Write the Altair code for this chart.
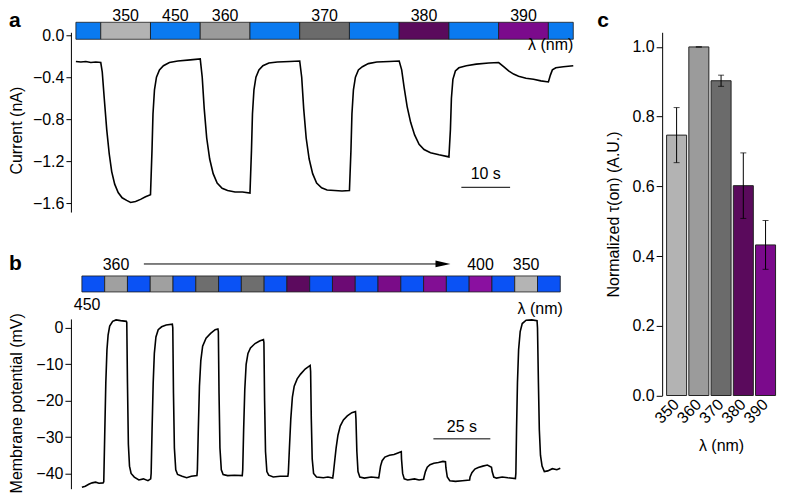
import altair as alt
import pandas as pd

FONT = "Liberation Sans"
FS = 16

# ---------------- Panel a : current trace ----------------
a_trace = [
    (0, -0.25), (1, -0.255), (2, -0.25), (3, -0.26), (4, -0.255), (5.0, -0.26),
    (5.3, -0.35), (5.7, -0.6), (6.2, -0.9), (6.7, -1.13), (7.2, -1.3), (7.8, -1.42),
    (8.5, -1.5), (9.3, -1.55), (10.2, -1.575), (11.0, -1.595), (12.0, -1.585),
    (13.0, -1.565), (14.0, -1.54), (15.0, -1.52),
    (15.3, -1.1), (15.5, -0.75), (15.8, -0.52), (16.2, -0.4), (16.8, -0.33),
    (17.6, -0.29), (18.8, -0.26), (20.5, -0.245), (23.0, -0.235), (25.0, -0.225),
    (25.4, -0.4), (25.8, -0.7), (26.3, -0.98), (26.9, -1.18), (27.6, -1.32),
    (28.4, -1.41), (29.4, -1.46), (30.5, -1.48), (32.0, -1.495), (33.5, -1.495),
    (35.0, -1.505),
    (35.3, -1.1), (35.5, -0.75), (35.8, -0.52), (36.2, -0.4), (36.8, -0.33),
    (37.6, -0.29), (38.8, -0.265), (40.5, -0.255), (43.0, -0.25), (45.0, -0.245),
    (45.4, -0.4), (45.8, -0.7), (46.3, -0.98), (46.9, -1.18), (47.6, -1.32),
    (48.4, -1.41), (49.4, -1.455), (50.5, -1.475), (52.0, -1.48), (53.5, -1.485),
    (55.0, -1.48),
    (55.3, -1.1), (55.5, -0.75), (55.8, -0.52), (56.2, -0.4), (56.8, -0.33),
    (57.6, -0.3), (58.8, -0.27), (60.5, -0.255), (63.0, -0.25), (65.0, -0.245),
    (65.5, -0.33), (66.0, -0.5), (66.6, -0.68), (67.3, -0.83), (68.1, -0.95),
    (69.0, -1.04), (70.0, -1.09), (71.3, -1.12), (73.0, -1.14), (75.0, -1.16),
    (75.3, -0.9), (75.5, -0.6), (75.8, -0.42), (76.3, -0.34), (77.0, -0.31),
    (78.5, -0.29), (80.5, -0.275), (83.0, -0.265), (85.0, -0.26),
    (86.0, -0.3), (87.0, -0.34), (88.0, -0.37), (89.0, -0.39), (90.5, -0.41),
    (92.0, -0.42), (93.5, -0.435), (95.0, -0.445),
    (95.4, -0.38), (95.8, -0.33), (96.5, -0.31), (98.0, -0.3), (100.0, -0.29),
]
a_seg_start = [0, 5, 15, 25, 35, 45, 55, 65, 75, 85, 95]
a_seg_end = [5, 15, 25, 35, 45, 55, 65, 75, 85, 95, 100]
BLUE_A = "#0a7af0"
a_seg_color = [BLUE_A, "#b3b3b3", BLUE_A, "#9b9b9b", BLUE_A, "#6b6b6b",
               BLUE_A, "#5a0a5c", BLUE_A, "#7b0a8c", BLUE_A]
a_label_text = ["350", "450", "360", "370", "380", "390"]
a_label_time = [10, 20, 30, 50, 70, 90]
a_yticks = [0.0, -0.4, -0.8, -1.2, -1.6]
a_bar = {"t1": [77.5], "t2": [87.3], "v": [-1.45], "tm": [82.4], "vt": [-1.325], "txt": ["10 s"]}
a_lambda = {"t": [100], "v": [-0.09], "txt": ["λ (nm)"]}

# ---------------- Panel b : membrane potential ----------------
b_trace = [
    (0, -43.8), (1.5, -43.5), (3, -43.0), (4.5, -42.6), (6, -42.4), (7.5, -42.7), (9.3, -42.6),
    (9.6, -42.3), (10.0, -30), (10.5, -15), (11.0, -6), (11.5, -2), (12.2, 0.5),
    (13.5, 1.8), (15, 2.2), (17, 2.0), (19.5, 1.8),
    (19.7, 1.5), (20.0, -15), (20.4, -32), (20.9, -38), (21.6, -40), (23, -41),
    (25, -41.8), (27, -41.5), (29, -42), (30.2, -41.5),
    (30.4, -40), (30.8, -28), (31.3, -15), (31.8, -7), (32.5, -2.5), (33.5, -0.5),
    (35, 0.3), (37, 0.8), (39.7, 1.0),
    (39.9, 0), (40.2, -18), (40.6, -33), (41.2, -39), (42, -40.3), (44, -40.8),
    (46, -41.2), (48, -40.8), (50.5, -40.6),
    (50.7, -39), (51.1, -28), (51.6, -16), (52.2, -9), (53, -5), (54.5, -2.8),
    (56.5, -1.5), (58.5, -0.5), (59.7, -0.3),
    (59.9, -1), (60.2, -18), (60.6, -33), (61.2, -39), (62, -40.3), (64, -40.6),
    (67, -40.5), (70.4, -40.6),
    (70.6, -39), (71.0, -28), (71.5, -17), (72.1, -10), (72.9, -7), (74, -5.5),
    (76, -4.3), (78, -3.6), (79.7, -3.2),
    (79.9, -4), (80.2, -20), (80.6, -34), (81.2, -39.5), (82, -40.5), (84, -41),
    (87, -40.8), (90.4, -40.8),
    (90.6, -40), (91.1, -33), (91.7, -25), (92.4, -19), (93.2, -16), (94.5, -14),
    (96, -12.7), (98, -11.3), (100.2, -10.3),
    (100.4, -12), (100.7, -25), (101.1, -36), (101.7, -40), (103, -41), (106, -41.2),
    (108, -41), (110.1, -41.3),
    (110.3, -40.5), (110.9, -37), (111.6, -33), (112.4, -29.5), (113.4, -27),
    (114.8, -25.3), (116.5, -24.2), (118.5, -23.3), (120.1, -23),
    (120.3, -25), (120.7, -34), (121.2, -39.5), (122, -41), (124, -41.3), (127, -41),
    (130.3, -41.2),
    (130.5, -40.5), (131.1, -38), (131.8, -36.5), (133, -35.5), (135, -35),
    (137, -34.8), (139, -34.3), (140.2, -34),
    (140.3, -36), (140.8, -40), (141.5, -41.5), (143, -41.8), (146, -41.5),
    (148, -41.8), (150, -41.6),
    (150.2, -41), (150.8, -39.5), (151.6, -38.3), (152.8, -37.6), (154.5, -37.2),
    (156.5, -37), (158.5, -36.7), (159.6, -36.8),
    (159.8, -38.5), (160.4, -41), (161.5, -42), (164, -42.2), (167, -42), (170.2, -41.8),
    (170.4, -41), (171.2, -39.8), (172.5, -38.8), (174, -38.4), (176, -38),
    (178, -37.7), (179.8, -38.3),
    (180.1, -39.5), (180.8, -41), (182, -41.3), (184.5, -41), (187, -41.2), (190.3, -41.4),
    (190.5, -40), (190.8, -28), (191.2, -15), (191.7, -6), (192.4, -1), (193.3, 1.2),
    (195, 2.1), (197.5, 2.2), (199.8, 2.0),
    (200, 0), (200.4, -15), (200.8, -28), (201.3, -35), (202, -38), (203, -39.5),
    (204.5, -39.3), (206.5, -38.7), (208.5, -39), (210, -38.6),
]
b_seg_start = [0, 10, 20, 30, 40, 50, 60, 70, 80, 90, 100,
               110, 120, 130, 140, 150, 160, 170, 180, 190, 200]
b_seg_end = [10, 20, 30, 40, 50, 60, 70, 80, 90, 100, 110,
             120, 130, 140, 150, 160, 170, 180, 190, 200, 210]
BLUE_B = "#0a52f5"
b_seg_color = [BLUE_B, "#a0a0a0", BLUE_B, "#a0a0a0", BLUE_B, "#6e6e6e", BLUE_B,
               "#6e6e6e", BLUE_B, "#5c0a5e", BLUE_B, "#6c0a74", BLUE_B, "#7a0c88",
               BLUE_B, "#820e94", BLUE_B, "#8a10a0", BLUE_B, "#b4b4b4", BLUE_B]
b_label_text = ["360", "400", "350"]
b_label_time = [15, 175, 195]
b_yticks = [0, -10, -20, -30, -40]
b_bar = {"t1": [154.3], "t2": [179.3], "v": [-30.5], "tm": [166.8], "vt": [-27.3], "txt": ["25 s"]}
b_arrow = {"t1": [27.2], "t2": [156.0], "head": [158.5]}

# ---------------- Panel c : normalized tau(on) ----------------
c_wavelength = ["350", "360", "370", "380", "390"]
c_tau = [0.747, 1.0, 0.903, 0.602, 0.432]
c_err = [0.079, 0.0, 0.016, 0.094, 0.070]
c_color = ["#b3b3b3", "#9b9b9b", "#6b6b6b", "#5a0a5c", "#7b0a8c"]
c_yticks = [0.0, 0.2, 0.4, 0.6, 0.8, 1.0]

# ---------------- build tables ----------------
df_a = pd.DataFrame(a_trace, columns=["t", "v"])
df_a_seg = pd.DataFrame({"start": a_seg_start, "end": a_seg_end, "color": a_seg_color})
df_a_lab = pd.DataFrame({"t": a_label_time, "txt": a_label_text})
df_b = pd.DataFrame(b_trace, columns=["t", "v"])
df_b_seg = pd.DataFrame({"start": b_seg_start, "end": b_seg_end, "color": b_seg_color})
df_b_lab = pd.DataFrame({"t": b_label_time, "txt": b_label_text})
df_c = pd.DataFrame({"wl": c_wavelength, "tau": c_tau, "err": c_err, "color": c_color})
df_c["lo"] = df_c["tau"] - df_c["err"]
df_c["hi"] = df_c["tau"] + df_c["err"]


def txt(**kw):
    base = dict(font=FONT, fontSize=FS, color="black")
    base.update(kw)
    return base


def yaxis(title, values, fmt, tx, ty=None, ts=5):
    kw = dict(values=values, format=fmt, title=title, grid=False, tickSize=ts,
              labelPadding=2, titleX=tx, titleFontWeight="normal")
    if ty is not None:
        kw["titleY"] = ty
    return alt.Axis(**kw)


# Panel a
xa = alt.Scale(domain=[-1.0, 100], nice=False, zero=False)
ya = alt.Scale(domain=[-1.686, 0.0286], nice=False, zero=False)

a_line = alt.Chart(df_a).mark_line(color="black", strokeWidth=1.6).encode(
    x=alt.X("t:Q", scale=xa, axis=None),
    y=alt.Y("v:Q", scale=ya, axis=yaxis("Current (nA)", a_yticks, ".1f", -46, 98)),
)
a_strip = alt.Chart(df_a_seg).mark_rect(stroke="#1a1a1a", strokeWidth=0.8).encode(
    x=alt.X("start:Q", scale=xa, axis=None), x2="end:Q",
    y=alt.value(-10), y2=alt.value(7),
    color=alt.Color("color:N", scale=None),
)
a_labels = alt.Chart(df_a_lab).mark_text(**txt(baseline="top")).encode(
    x=alt.X("t:Q", scale=xa, axis=None), y=alt.value(-24), text="txt:N")
df_abar = pd.DataFrame(a_bar)
a_sbar = alt.Chart(df_abar).mark_rule(color="black", strokeWidth=1).encode(
    x=alt.X("t1:Q", scale=xa, axis=None), x2="t2:Q", y=alt.Y("v:Q", scale=ya))
a_stxt = alt.Chart(df_abar).mark_text(**txt(baseline="middle")).encode(
    x=alt.X("tm:Q", scale=xa, axis=None), y=alt.Y("vt:Q", scale=ya), text="txt:N")
a_lam = alt.Chart(pd.DataFrame(a_lambda)).mark_text(**txt(align="right", baseline="middle")).encode(
    x=alt.X("t:Q", scale=xa, axis=None), y=alt.Y("v:Q", scale=ya), text="txt:N")
a_tag = alt.Chart(pd.DataFrame({"txt": ["a"]})).mark_text(
    **txt(fontSize=21, fontWeight="bold", align="left", baseline="top")).encode(
    x=alt.value(-62), y=alt.value(-22), text="txt:N")
panel_a = alt.layer(a_strip, a_labels, a_line, a_sbar, a_stxt, a_lam, a_tag).properties(
    width=503, height=180)

# Panel b
xb = alt.Scale(domain=[-4.82, 210], nice=False, zero=False)
yb = alt.Scale(domain=[-44.2, 2.47], nice=False, zero=False)

b_line = alt.Chart(df_b).mark_line(color="black", strokeWidth=1.6).encode(
    x=alt.X("t:Q", scale=xb, axis=None),
    y=alt.Y("v:Q", scale=yb, axis=yaxis("Membrane potential (mV)", b_yticks, "d", -46, 84, 6)),
)
b_strip = alt.Chart(df_b_seg).mark_rect(stroke="#1a1a1a", strokeWidth=0.8).encode(
    x=alt.X("start:Q", scale=xb, axis=None), x2="end:Q",
    y=alt.value(-43), y2=alt.value(-27),
    color=alt.Color("color:N", scale=None),
)
b_labels = alt.Chart(df_b_lab).mark_text(**txt(baseline="middle")).encode(
    x=alt.X("t:Q", scale=xb, axis=None), y=alt.value(-54), text="txt:N")
b_450 = alt.Chart(pd.DataFrame({"t": [2.3], "txt": ["450"]})).mark_text(**txt(baseline="middle")).encode(
    x=alt.X("t:Q", scale=xb, axis=None), y=alt.value(-14), text="txt:N")
b_lam = alt.Chart(pd.DataFrame({"t": [201.2], "txt": ["λ (nm)"]})).mark_text(**txt(baseline="middle")).encode(
    x=alt.X("t:Q", scale=xb, axis=None), y=alt.value(-10), text="txt:N")
df_arrow = pd.DataFrame(b_arrow)
b_arrow_line = alt.Chart(df_arrow).mark_rule(color="black", strokeWidth=1).encode(
    x=alt.X("t1:Q", scale=xb, axis=None), x2="t2:Q", y=alt.value(-55))
b_arrow_head = alt.Chart(df_arrow).mark_point(
    shape="M-1,-0.45L1,0L-1,0.45Z", filled=True, size=225, color="black", opacity=1).encode(
    x=alt.X("head:Q", scale=xb, axis=None), y=alt.value(-55))
df_bbar = pd.DataFrame(b_bar)
b_sbar = alt.Chart(df_bbar).mark_rule(color="black", strokeWidth=1).encode(
    x=alt.X("t1:Q", scale=xb, axis=None), x2="t2:Q", y=alt.Y("v:Q", scale=yb))
b_stxt = alt.Chart(df_bbar).mark_text(**txt(baseline="middle")).encode(
    x=alt.X("tm:Q", scale=xb, axis=None), y=alt.Y("vt:Q", scale=yb), text="txt:N")
b_tag = alt.Chart(pd.DataFrame({"txt": ["b"]})).mark_text(
    **txt(fontSize=21, fontWeight="bold", align="left", baseline="middle")).encode(
    x=alt.value(-62), y=alt.value(-55), text="txt:N")
panel_b = alt.layer(b_strip, b_labels, b_450, b_lam, b_arrow_line, b_arrow_head,
                    b_line, b_sbar, b_stxt, b_tag).properties(width=490, height=170)

# Panel c
xc = alt.Scale(domain=c_wavelength, paddingInner=0.1, paddingOuter=0.2)
yc = alt.Scale(domain=[0, 1.042], nice=False, zero=True)
c_bars = alt.Chart(df_c).mark_bar(stroke="#222222", strokeWidth=1).encode(
    x=alt.X("wl:N", scale=xc, sort=c_wavelength,
            axis=alt.Axis(title="λ (nm)", labelAngle=315, labelAlign="right",
                          labelBaseline="middle", ticks=False, domain=False,
                          labelPadding=6, titleY=42, titleBaseline="top",
                          titleFontWeight="normal")),
    y=alt.Y("tau:Q", scale=yc,
            axis=yaxis("Normalized τ(on) (A.U.)", c_yticks, ".1f", -41, None, 6)),
    color=alt.Color("color:N", scale=None),
)
c_err_rule = alt.Chart(df_c).mark_rule(color="black", strokeWidth=1).encode(
    x=alt.X("wl:N", scale=xc, sort=c_wavelength), y=alt.Y("lo:Q", scale=yc), y2="hi:Q")
c_cap_lo = alt.Chart(df_c).mark_tick(color="black", thickness=1, size=6).encode(
    x=alt.X("wl:N", scale=xc, sort=c_wavelength), y=alt.Y("lo:Q", scale=yc))
c_cap_hi = alt.Chart(df_c).mark_tick(color="black", thickness=1, size=6).encode(
    x=alt.X("wl:N", scale=xc, sort=c_wavelength), y=alt.Y("hi:Q", scale=yc))
c_tag = alt.Chart(pd.DataFrame({"txt": ["c"]})).mark_text(
    **txt(fontSize=21, fontWeight="bold", align="left", baseline="top")).encode(
    x=alt.value(-65), y=alt.value(-22), text="txt:N")
panel_c = alt.layer(c_bars, c_err_rule, c_cap_lo, c_cap_hi, c_tag).properties(
    width=118, height=363.7)

left = alt.vconcat(panel_a, panel_b, spacing=107, bounds="flush")
chart = alt.hconcat(left, panel_c, spacing=592, bounds="flush").properties(
    padding={"left": 0, "top": 0, "right": 0, "bottom": 0}
).configure_view(stroke=None).configure_axis(
    labelFont=FONT, titleFont=FONT, labelFontSize=FS, titleFontSize=FS,
    labelColor="black", titleColor="black", domainColor="black", tickColor="black",
    domainWidth=1, tickWidth=1,
)

chart.save("out.html", embed_options={"renderer": "svg", "actions": False})
